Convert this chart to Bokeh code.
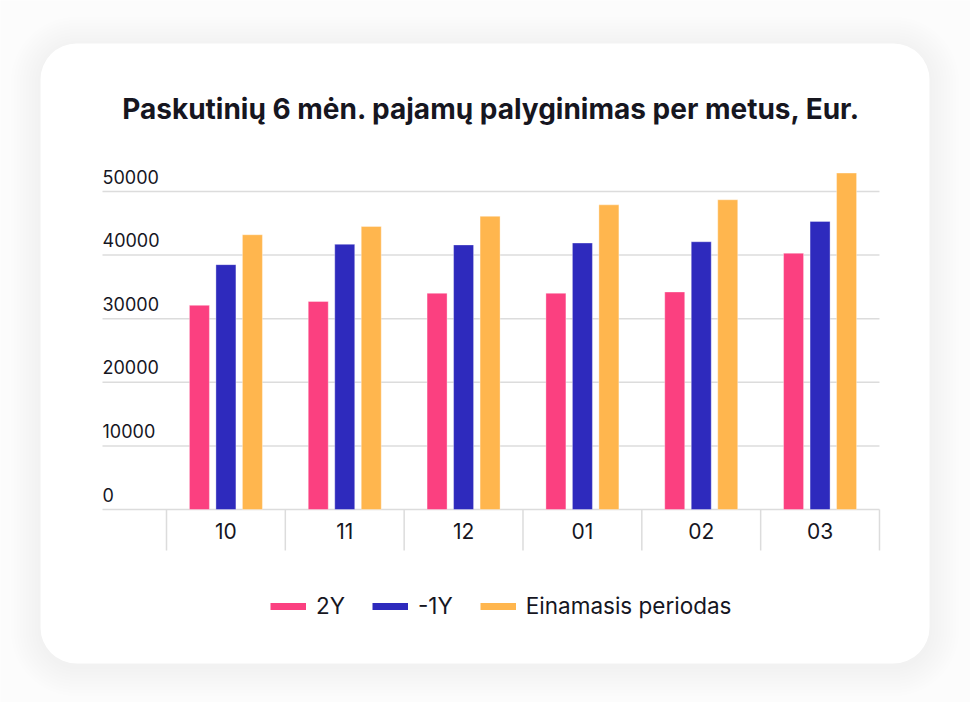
from bokeh.plotting import figure
from bokeh.models import Range1d, ColumnDataSource, BoxAnnotation, Legend, LegendItem
from bokeh.core.properties import value
from bokeh.transform import dodge
from bokeh.embed import file_html
from bokeh.resources import INLINE

# ---------------- data ----------------
title_text = "Paskutinių 6 mėn. pajamų palyginimas per metus, Eur."
months = ["10", "11", "12", "01", "02", "03"]
series_names = ["2Y", "-1Y", "Einamasis periodas"]
values_2y = [32100, 32700, 34000, 34000, 34200, 40300]
values_1y = [38500, 41700, 41600, 41900, 42100, 45300]
values_cur = [43200, 44500, 46100, 47900, 48700, 52900]
y_ticks = [0, 10000, 20000, 30000, 40000, 50000]

# ---------------- layout constants ----------------
W, H = 970, 702
X0_PX = 166.0          # left edge of first category slot
CAT_PX = 118.83        # width of one category slot
Y0_PX = 509.0          # pixel row of value 0
PX_PER_VAL = 318.0 / 50000.0

def xd(px):
    return (px - X0_PX) / CAT_PX

def yd(py):
    return (Y0_PX - py) / PX_PER_VAL

FONT = "Inter"
TEXT_COLOR = "#16161f"
GRID_COLOR = "#dcdcdc"
COLORS = ["#fb4080", "#2e2abd", "#ffb64e"]

p = figure(width=W, height=H,
           x_range=Range1d(xd(0), xd(W)), y_range=Range1d(yd(H), yd(0)),
           min_border=0, toolbar_location=None, output_backend="svg",
           x_axis_type=None, y_axis_type=None)
p.outline_line_color = None
p.background_fill_color = "#fcfcfc"
p.border_fill_color = "#fcfcfc"

# card shadow + card
CARD_L, CARD_R, CARD_T, CARD_B = 40, 929, 43, 663
for k in range(10, 0, -1):
    e = 3 * k
    p.add_layout(BoxAnnotation(left=xd(CARD_L - e), right=xd(CARD_R + e),
                               top=yd(CARD_T - e + 3), bottom=yd(CARD_B + e + 3),
                               fill_color="black", fill_alpha=0.0045, line_color=None,
                               border_radius=36 + e, level="underlay"))
p.add_layout(BoxAnnotation(left=xd(CARD_L), right=xd(CARD_R), top=yd(CARD_T), bottom=yd(CARD_B),
                           fill_color="white", fill_alpha=1.0, line_color=None,
                           border_radius=36, level="underlay"))

n = len(months)
centers = [i + 0.5 for i in range(n)]
GRID_LEFT = xd(102)

# gridlines (value axis)
p.segment(x0=[GRID_LEFT] * len(y_ticks), y0=y_ticks, x1=[n] * len(y_ticks), y1=y_ticks,
          line_color=GRID_COLOR, line_width=1.5)
# category separators
p.segment(x0=list(range(n + 1)), y0=[0] * (n + 1), x1=list(range(n + 1)), y1=[yd(550)] * (n + 1),
          line_color=GRID_COLOR, line_width=1.5)

# value tick labels (inside plot, above grid lines)
p.text(x=[GRID_LEFT] * len(y_ticks), y=[t + 15 / PX_PER_VAL for t in y_ticks],
       text=[str(t) for t in y_ticks], text_font=value(FONT), text_font_size="18px",
       text_color=TEXT_COLOR, text_align="left", text_baseline="middle")

# category labels
p.text(x=centers, y=[yd(530.5)] * n, text=months, text_font=value(FONT), text_font_size="21px",
       text_color=TEXT_COLOR, text_align="center", text_baseline="middle")

# bars
src = ColumnDataSource(dict(x=centers, s2y=values_2y, s1y=values_1y, cur=values_cur))
bar_w = 20 / CAT_PX
off = 26.5 / CAT_PX
legend_items = []
nan = float("nan")
for col, o, c, name in zip(["s2y", "s1y", "cur"], [-off, 0, off], COLORS, series_names):
    p.vbar(x=dodge("x", o), top=col, bottom=0, width=bar_w, source=src,
           fill_color=c, line_color="white", line_alpha=0.35, line_width=1)
    proxy = p.line(x=[nan], y=[nan], line_color=c, line_width=7, line_cap="butt")
    legend_items.append(LegendItem(label=name, renderers=[proxy]))

# title
p.text(x=[xd(491)], y=[yd(108.5)], text=[title_text], text_font=value(FONT),
       text_font_size="28px", text_font_style="bold", text_color=TEXT_COLOR,
       text_align="center", text_baseline="middle")

legend = Legend(items=legend_items, orientation="horizontal", location=(270, 702 - 619),
                glyph_width=36, glyph_height=24, label_height=24, label_standoff=10, spacing=27,
                padding=0, margin=0, border_line_color=None, background_fill_alpha=0,
                label_text_font=FONT, label_text_font_size="22.5px", label_text_color=TEXT_COLOR)
p.add_layout(legend)

open("out.html", "w").write(file_html(p, INLINE))
